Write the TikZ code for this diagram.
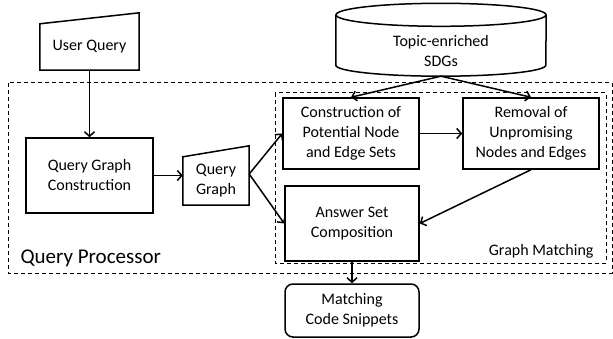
\documentclass[tikz,border=0pt]{standalone}
\usepackage{fontspec}
\setmainfont{Carlito}
\usetikzlibrary{arrows.meta}
\begin{document}
\begin{tikzpicture}[x=1pt,y=-1pt,
    box/.style={draw,line width=1.5pt,align=center,inner sep=0pt,font=\fontsize{16}{20}\selectfont},
    inbox/.style={align=center,inner sep=0pt,font=\fontsize{16}{20}\selectfont},
    arr/.style={-{Straight Barb[length=4.5pt,width=10pt]},line width=1.5pt},
    frame/.style={line width=1pt,dash pattern=on 4pt off 3pt}]
  \useasboundingbox (0,0) rectangle (613,339);

  % dashed frames
  \draw[frame] (8,83) rectangle (612,273);
  \draw[frame] (275,93) rectangle (606,263);
  \node[anchor=base west,font=\fontsize{21}{25}\selectfont] (qp) at (17,263) {Query Processor};
  \node[anchor=base east,font=\fontsize{16}{20}\selectfont] (gm) at (597,255) {Graph Matching};

  % inputs with slanted top
  \node[inbox,minimum width=99pt,minimum height=46pt] (uq) at (89.5,47) {User Query};
  \draw[line width=1.5pt] (uq.south west) -- (uq.north west) -- ([yshift=11pt]uq.north east) -- (uq.south east) -- cycle;
  \node[inbox,minimum width=66pt,minimum height=48pt] (qg) at (216,181) {Query\\Graph};
  \draw[line width=1.5pt] (qg.south west) -- (qg.north west) -- ([yshift=11pt]qg.north east) -- (qg.south east) -- cycle;

  % database
  \node[inbox,minimum width=210pt,minimum height=50pt] (sdg) at (441,51) {Topic-enriched\\SDGs};
  \draw[line width=1.5pt] ([yshift=11pt]sdg.north) ellipse [x radius=105pt,y radius=11.5pt];
  \draw[line width=1.5pt] ([yshift=11pt]sdg.north west) -- ([yshift=11pt]sdg.south west)
    arc[start angle=180,end angle=360,x radius=105pt,y radius=11pt] -- ([yshift=11pt]sdg.north east);

  \node[box,minimum width=127pt,minimum height=75pt] (qgc) at (89.5,175.5) {Query Graph\\Construction};
  \node[box,minimum width=136pt,minimum height=71pt] (cpn) at (351,133.5) {Construction of\\Potential Node\\and Edge Sets};
  \node[box,minimum width=136pt,minimum height=71pt] (run) at (531,133.5) {Removal of\\Unpromising\\Nodes and Edges};
  \node[box,minimum width=134pt,minimum height=75pt] (asc) at (352,223.5) {Answer Set\\Composition};
  \node[box,rounded corners=8pt,minimum width=134pt,minimum height=53pt] (mcs) at (352,310.5) {Matching\\Code Snippets};

  \coordinate (qgout) at ([yshift=7pt]qg.east);

  \draw[arr] (uq.south) -- (qgc.north);
  \draw[arr] (qgc.east) -- (qgc.east -| qg.west);
  \draw[arr] (qgout) -- (cpn.west);
  \draw[arr] (qgout) -- (asc.west);
  \draw[arr] (sdg.south) -- (cpn.north);
  \draw[arr] (sdg.south) -- (run.north);
  \draw[arr] (cpn.east) -- (run.west);
  \draw[arr] (run.south) -- (asc.east);
  \draw[arr] (asc.south) -- (mcs.north);
\end{tikzpicture}
\end{document}
